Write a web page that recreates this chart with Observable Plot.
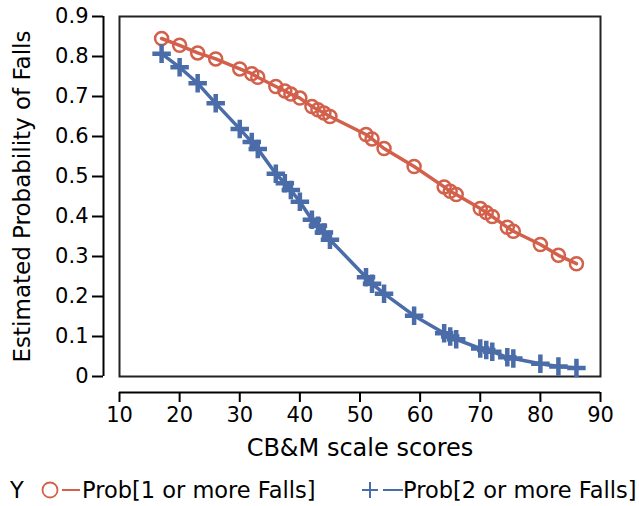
<!DOCTYPE html>
<html><head><meta charset="utf-8">
<script src="https://cdn.jsdelivr.net/npm/d3@7"></script>
<script src="https://cdn.jsdelivr.net/npm/@observablehq/plot@0.6"></script>
<style>
body{margin:0;background:#fff;font-family:"DejaVu Sans",sans-serif;}
#legend{position:relative;height:32px;width:639px;font-size:22.5px;color:#000;white-space:nowrap}
#legend > *{position:absolute;top:50%;transform:translateY(-50%)}
</style></head><body><div id="chart"></div><div id="legend"></div>
<script>
// CB&M scale scores (x) and estimated probabilities
const scores = [17,20,23,26,30,32,33,36,37.5,38.5,40,42,43,44,45,51,52,54,59,64,65,66,70,71,72,74.5,75.5,80,83,86];
const prob1 = [0.845,0.828,0.809,0.794,0.769,0.757,0.748,0.725,0.714,0.706,0.696,0.675,0.667,0.659,0.650,0.605,0.594,0.570,0.525,0.474,0.463,0.455,0.420,0.410,0.400,0.373,0.363,0.330,0.303,0.282];
const prob2 = [0.807,0.773,0.733,0.683,0.619,0.586,0.569,0.507,0.483,0.466,0.437,0.392,0.377,0.360,0.342,0.248,0.232,0.207,0.152,0.108,0.100,0.093,0.070,0.066,0.062,0.048,0.045,0.032,0.025,0.021];
const seriesNames = ["Prob[1 or more Falls]", "Prob[2 or more Falls]"];
const seriesColors = ["#D2604B", "#4A6CA8"];
const xTicks = [10,20,30,40,50,60,70,80,90];
const yTicks = [0,0.1,0.2,0.3,0.4,0.5,0.6,0.7,0.8,0.9];
const xLabel = "CB&M scale scores";
const yLabel = "Estimated Probability of Falls";

const rows1 = scores.map((s,i)=>({x:s, y:prob1[i]}));
const rows2 = scores.map((s,i)=>({x:s, y:prob2[i]}));

const chart = Plot.plot({
  width: 639, height: 474,
  marginLeft: 119, marginRight: 39, marginTop: 16, marginBottom: 98,
  style: {fontFamily: "DejaVu Sans", fontSize: "21px", background: "white", color: "#000"},
  x: {domain: [10, 90]},
  y: {domain: [0, 0.9]},
  marks: [
    Plot.frame({stroke: "#222", strokeWidth: 2}),
    Plot.ruleX([10], {y1: 0, y2: 0.9, dx: -16, stroke: "#000", strokeWidth: 2}),
    Plot.ruleY([0], {x1: 10, x2: 90, dy: 16, stroke: "#000", strokeWidth: 2}),
    Plot.axisY({ticks: yTicks, tickFormat: d => d === 0 ? "0" : d3.format(".1f")(d), dx: -16, tickSize: 11, tickPadding: 4, strokeWidth: 2, fontSize: 21, label: null}),
    Plot.axisX({ticks: xTicks, tickFormat: d => String(d), dy: 16, tickSize: 10, tickPadding: 5, strokeWidth: 2, fontSize: 21, label: null}),
    Plot.text([yLabel], {frameAnchor: "left", textAnchor: "middle", rotate: -90, dx: -97, fontSize: 23}),
    Plot.text([xLabel], {frameAnchor: "bottom", dy: 79, fontSize: 24}),
    Plot.line(rows1, {x: "x", y: "y", stroke: seriesColors[0], strokeWidth: 3.5}),
    Plot.dot(rows1, {x: "x", y: "y", r: 6.5, stroke: seriesColors[0], strokeWidth: 2.5, fill: "none"}),
    Plot.line(rows2, {x: "x", y: "y", stroke: seriesColors[1], strokeWidth: 3.5}),
    Plot.dot(rows2, {x: "x", y: "y", symbol: "plus", r: 6, stroke: seriesColors[1], strokeWidth: 4.5})
  ]
});
document.getElementById("chart").appendChild(chart);

const lg = document.getElementById("legend");
lg.innerHTML = `
<span style="left:10px">Y</span>
<svg style="left:40px" width="20" height="20"><circle cx="10" cy="10" r="7.5" fill="none" stroke="${seriesColors[0]}" stroke-width="1.8"/></svg>
<svg style="left:62px" width="18" height="20"><line x1="0" x2="18" y1="10" y2="10" stroke="${seriesColors[0]}" stroke-width="2"/></svg>
<span style="left:82px">${seriesNames[0]}</span>
<svg style="left:361px" width="18" height="20"><path d="M9 2V18M1 10H17" stroke="${seriesColors[1]}" stroke-width="2" fill="none"/></svg>
<svg style="left:383px" width="20" height="20"><line x1="0" x2="20" y1="10" y2="10" stroke="${seriesColors[1]}" stroke-width="2"/></svg>
<span style="left:403px">${seriesNames[1]}</span>`;
</script></body></html>
